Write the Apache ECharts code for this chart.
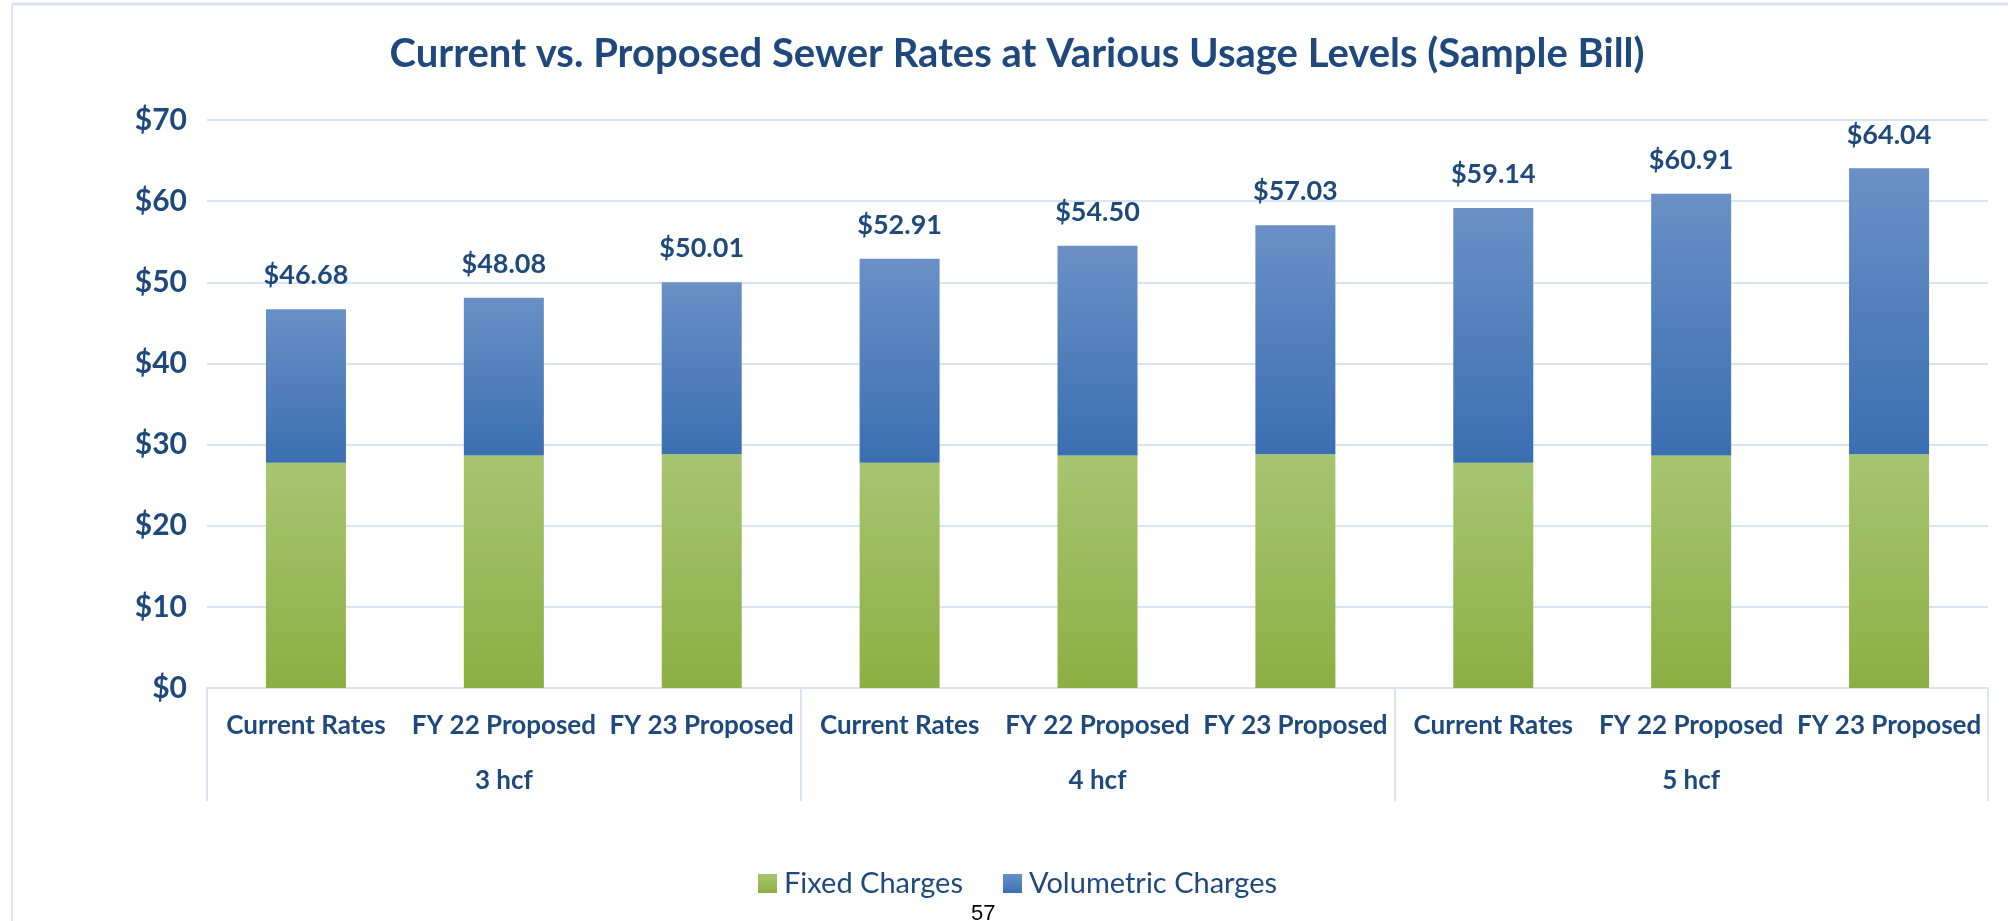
<!DOCTYPE html>
<html>
<head>
<meta charset="utf-8">
<script src="https://cdn.jsdelivr.net/npm/echarts@6/dist/echarts.min.js"></script>
<style>
html,body{margin:0;padding:0;background:#fff;}
#chart{width:2008px;height:921px;}
</style>
</head>
<body>
<div id="chart"></div>
<script>
const categories = ['Current Rates','FY 22 Proposed','FY 23 Proposed','Current Rates','FY 22 Proposed','FY 23 Proposed','Current Rates','FY 22 Proposed','FY 23 Proposed'];
const groups = ['3 hcf','4 hcf','5 hcf'];
const fixedCharges = [27.75, 28.66, 28.81, 27.75, 28.66, 28.81, 27.75, 28.66, 28.81];
const volumetricCharges = [18.93, 19.42, 21.20, 25.16, 25.84, 28.22, 31.39, 32.25, 35.23];
const totalLabels = ['$46.68','$48.08','$50.01','$52.91','$54.50','$57.03','$59.14','$60.91','$64.04'];
const yTicks = [0,10,20,30,40,50,60,70];

const navy = '#1F497D';
const gridColor = '#D9E4F2';
const font = 'Lato';

const chart = echarts.init(document.getElementById('chart'));
chart.setOption({
  animation: false,
  backgroundColor: '#ffffff',
  textStyle: {fontFamily: font},
  title: {
    text: 'Current vs. Proposed Sewer Rates at Various Usage Levels (Sample Bill)',
    left: 1012, top: 29, textAlign: 'center',
    textStyle: {fontFamily: font, fontWeight: 'bold', fontSize: 40, color: navy}
  },
  legend: {
    left: 753, top: 864,
    icon: 'rect', itemWidth: 19, itemHeight: 19, itemGap: 40,
    textStyle: {fontFamily: font, fontSize: 29, color: navy, padding: [0,0,0,2]},
    data: ['Fixed Charges','Volumetric Charges']
  },
  grid: {left: 207, right: 20, top: 120, bottom: 233, containLabel: false},
  xAxis: [{
    type: 'category', data: categories, position: 'bottom',
    axisLine: {show: true, lineStyle: {color: gridColor, width: 2}},
    axisTick: {show: false},
    axisLabel: {interval: 0, margin: 25, fontFamily: font, fontWeight: 'bold', fontSize: 26, color: navy}
  }, {
    type: 'category', data: groups, position: 'bottom',
    axisLine: {show: false},
    axisTick: {show: true, interval: 0, length: 113, lineStyle: {color: gridColor, width: 2}},
    axisLabel: {interval: 0, margin: 80, fontFamily: font, fontWeight: 'bold', fontSize: 26, color: navy}
  }],
  yAxis: {
    type: 'value', min: 0, max: 70, interval: 10,
    axisLine: {show: false}, axisTick: {show: false},
    splitLine: {lineStyle: {color: gridColor, width: 2}},
    axisLabel: {margin: 20, fontFamily: font, fontWeight: 'bold', fontSize: 30, color: navy,
      formatter: v => yTicks.includes(v) ? '$' + v : ''}
  },
  series: [{
    name: 'Fixed Charges', type: 'bar', stack: 'bill', barWidth: 80,
    data: fixedCharges,
    itemStyle: {color: new echarts.graphic.LinearGradient(0,0,0,1,[{offset:0,color:'#A7C571'},{offset:1,color:'#8CAF43'}])}
  }, {
    name: 'Volumetric Charges', type: 'bar', stack: 'bill', barWidth: 80,
    data: volumetricCharges,
    itemStyle: {color: new echarts.graphic.LinearGradient(0,0,0,1,[{offset:0,color:'#6A90C6'},{offset:1,color:'#3A6FB2'}])},
    label: {show: true, position: 'top', distance: 20, fontFamily: font, fontWeight: 'bold', fontSize: 27, color: navy,
      formatter: p => totalLabels[p.dataIndex]}
  }],
  graphic: [
    {type: 'line', shape: {x1: 12, y1: 4, x2: 2008, y2: 4}, style: {stroke: gridColor, lineWidth: 3}},
    {type: 'line', shape: {x1: 12, y1: 4, x2: 12, y2: 921}, style: {stroke: gridColor, lineWidth: 2}},
    {type: 'text', left: 971, top: 903, style: {text: '57', fontFamily: 'Liberation Sans', fontSize: 22, fill: '#000'}}
  ]
});
</script>
</body>
</html>
